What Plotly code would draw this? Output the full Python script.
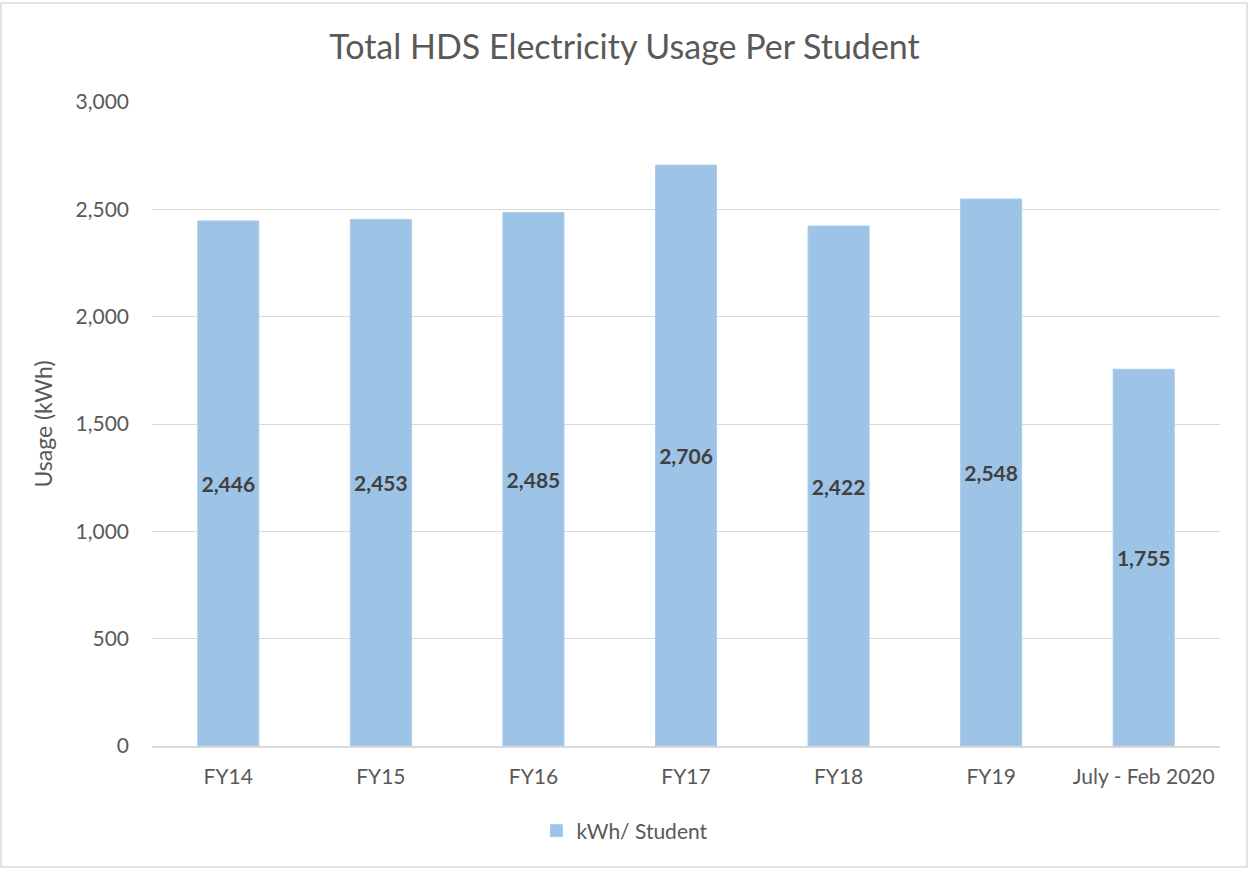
import plotly.graph_objects as go

categories = ["FY14", "FY15", "FY16", "FY17", "FY18", "FY19", "July - Feb 2020"]
kwh_per_student = [2446, 2453, 2485, 2706, 2422, 2548, 1755]
y_ticks = [0, 500, 1000, 1500, 2000, 2500, 3000]
y_tick_labels = ["0", "500", "1,000", "1,500", "2,000", "2,500", "3,000"]

W, H = 1249, 869
L, R, T, B = 152, 1220, 102, 746

def px_x(p):
    return (p - L) / (R - L)

def px_y(p):
    return (B - p) / (B - T)

FONT = "Lato"

fig = go.Figure()
fig.add_trace(go.Bar(
    x=categories,
    y=kwh_per_student,
    name="kWh/ Student",
    marker=dict(color="#9DC3E6", line=dict(color="#A9CBEA", width=1)),
    width=0.4,
    text=[f"{v:,}" for v in kwh_per_student],
    textposition="inside",
    insidetextanchor="middle",
    textangle=0,
    textfont=dict(family=FONT, size=21, color="#404040", weight="bold"),
    hoverinfo="x+y",
))

fig.update_layout(
    width=W, height=H,
    margin=dict(l=L, r=W - R, t=T, b=H - B),
    paper_bgcolor="white",
    plot_bgcolor="white",
    title=dict(
        text="Total HDS Electricity Usage Per Student",
        x=0.5, xanchor="center",
        y=1 - 47 / H, yanchor="middle",
        font=dict(family=FONT, size=34, color="#595959"),
    ),
    showlegend=True,
    legend=dict(
        orientation="h",
        x=px_x(625), xanchor="center",
        y=px_y(831), yanchor="middle",
        font=dict(family=FONT, size=21, color="#595959"),
    ),
    bargap=0.6,
)

fig.update_xaxes(
    showgrid=False,
    showline=True, linecolor="#D9D9D9", linewidth=2,
    ticks="",
    tickfont=dict(family=FONT, size=21, color="#595959"),
    ticklabelstandoff=11,
)
fig.update_yaxes(
    range=[0, 3000],
    tickvals=y_ticks,
    ticktext=y_tick_labels,
    showgrid=True, gridcolor="#D9D9D9", gridwidth=1,
    zeroline=False,
    showline=False,
    ticks="",
    tickfont=dict(family=FONT, size=21, color="#595959"),
    ticklabelstandoff=22,
    title=dict(text="Usage (kWh)", font=dict(family=FONT, size=23, color="#595959"), standoff=16),
)

fig.add_shape(
    type="rect", xref="paper", yref="paper",
    x0=px_x(1), x1=px_x(1247), y0=px_y(867), y1=px_y(3),
    line=dict(color="#D9D9D9", width=1.5),
    fillcolor="rgba(0,0,0,0)",
    layer="below",
)

fig.write_html(
    "out.html",
    config={"displayModeBar": False},
    post_script="document.body.style.margin='0';document.body.style.overflow='hidden';",
)
